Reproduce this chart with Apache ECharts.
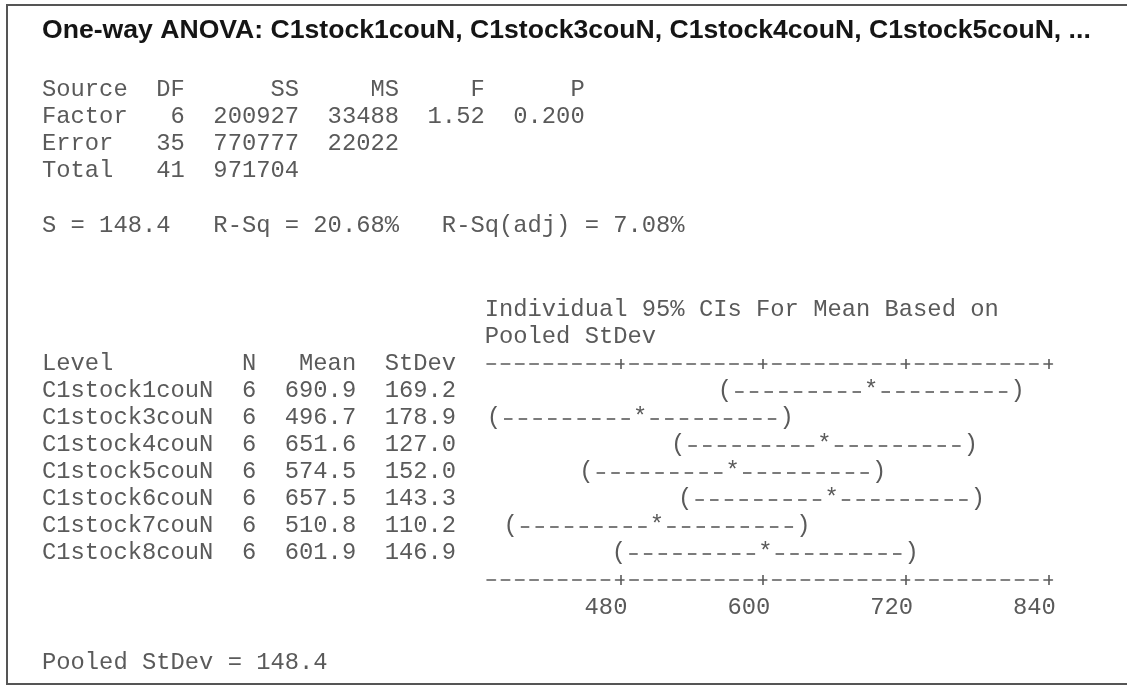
<!DOCTYPE html>
<html><head><meta charset="utf-8">
<script src="https://cdn.jsdelivr.net/npm/echarts@6/dist/echarts.min.js"></script>
<style>html,body{margin:0;padding:0;background:#fff}#c{width:1127px;height:686px}</style>
</head><body><div id="c"></div>
<script>
// ---------- data ----------
const titleText = 'One-way ANOVA: C1stock1couN, C1stock3couN, C1stock4couN, C1stock5couN, ...';
const anovaSources = ['Factor', 'Error', 'Total'];
const anovaDF = [6, 35, 41];
const anovaSS = [200927, 770777, 971704];
const anovaMS = ['33488', '22022', ''];
const anovaF = ['1.52', '', ''];
const anovaP = ['0.200', '', ''];
const sValue = '148.4';
const rSq = '20.68%';
const rSqAdj = '7.08%';
const pooledStDev = '148.4';
const ciHeader = ['Individual 95% CIs For Mean Based on', 'Pooled StDev'];
const levels = ['C1stock1couN', 'C1stock3couN', 'C1stock4couN', 'C1stock5couN', 'C1stock6couN', 'C1stock7couN', 'C1stock8couN'];
const nObs = [6, 6, 6, 6, 6, 6, 6];
const means = [690.9, 496.7, 651.6, 574.5, 657.5, 510.8, 601.9];
const stdevs = [169.2, 178.9, 127.0, 152.0, 143.3, 110.2, 146.9];
const ciLow = [567.9, 373.7, 528.6, 451.5, 534.5, 387.8, 478.9];
const ciHigh = [813.9, 619.7, 774.6, 697.5, 780.5, 633.8, 724.9];
const tickValues = [480, 600, 720, 840];

// ---------- style / layout ----------
const MONO = '"Liberation Mono", "DejaVu Sans Mono", monospace';
const FS = 23.8;
const CW = FS * 0.6;
const X0 = 42;
const TXT = '#5a5a5a';
const monoFont = FS + 'px ' + MONO;
const DASH_W = 8.5;

function anovaLine(i) {
  return anovaSources[i].padEnd(6) + String(anovaDF[i]).padStart(4) + String(anovaSS[i]).padStart(8) +
    (anovaMS[i] ? anovaMS[i].padStart(7) : '') + (anovaF[i] ? anovaF[i].padStart(6) : '') + (anovaP[i] ? anovaP[i].padStart(7) : '');
}
function levelRow(i) {
  return levels[i].padEnd(12) + String(nObs[i]).padStart(3) + means[i].toFixed(1).padStart(7) + stdevs[i].toFixed(1).padStart(7);
}
function monoText(str, x, y) {
  return { type: 'text', x: x, y: y, silent: true,
    style: { text: str, font: monoFont, fill: TXT, textAlign: 'left', align: 'left', textVerticalAlign: 'middle', verticalAlign: 'middle' } };
}

const graphics = [
  { type: 'rect', silent: true, shape: { x: 7, y: 5, width: 1300, height: 679 },
    style: { fill: 'none', stroke: '#555', lineWidth: 2 } },
  { type: 'text', x: X0, y: 30.5, silent: true,
    style: { text: titleText, font: 'bold 26.6px "Liberation Sans", Arial, sans-serif', fill: '#151515',
      textAlign: 'left', align: 'left', textVerticalAlign: 'middle', verticalAlign: 'middle' } },
  monoText('Source'.padEnd(6) + 'DF'.padStart(4) + 'SS'.padStart(8) + 'MS'.padStart(7) + 'F'.padStart(6) + 'P'.padStart(7), X0, 90),
  monoText(anovaLine(0), X0, 117),
  monoText(anovaLine(1), X0, 144),
  monoText(anovaLine(2), X0, 171),
  monoText('S = ' + sValue + '   R-Sq = ' + rSq + '   R-Sq(adj) = ' + rSqAdj, X0, 226),
  monoText(ciHeader[0], X0 + 31 * CW, 310),
  monoText(ciHeader[1], X0 + 31 * CW, 337),
  monoText('Level'.padEnd(12) + 'N'.padStart(3) + 'Mean'.padStart(7) + 'StDev'.padStart(7), X0, 364),
  monoText('Pooled StDev = ' + pooledStDev, X0, 663)
];

// axis: 368 at x=487, 840 at x=1048.7; max extended a little so the last "+" keeps its right arm
const XMIN = 368, XMAX = 845;
const GL = 487;
const PX_PER = (1048.7 - 487) / (840 - XMIN);
const GR = GL + (XMAX - XMIN) * PX_PER;
const dash = [DASH_W, CW - DASH_W];
const axisLineStyle = { color: '#5a5a5a', width: 1.6, type: dash };
const tickStyle = { color: '#5a5a5a', width: 1.6 };
function xAx(pos, withLine, inside, labels) {
  return {
    type: 'value', gridIndex: 0, position: pos, offset: 13.5, min: XMIN, max: XMAX,
    axisLine: { show: withLine, onZero: false, lineStyle: axisLineStyle },
    axisTick: { show: true, inside: inside, length: 5, customValues: tickValues, lineStyle: tickStyle },
    axisLabel: labels ? { show: true, customValues: tickValues, formatter: v => v + '  ', align: 'center',
      margin: 16, fontFamily: MONO, fontSize: FS, color: TXT } : { show: false },
    splitLine: { show: false }
  };
}

const chart = echarts.init(document.getElementById('c'), null, { renderer: 'canvas' });
chart.setOption({
  animation: false,
  backgroundColor: '#fff',
  graphic: graphics,
  grid: { left: GL, right: 1127 - GR, top: 377.5, bottom: 686 - 566.5, containLabel: false },
  xAxis: [xAx('bottom', true, false, true), xAx('bottom', false, true, false), xAx('top', true, false, false), xAx('top', false, true, false)],
  yAxis: {
    type: 'category', data: levels, inverse: true,
    axisLine: { show: false }, axisTick: { show: false }, splitLine: { show: false },
    axisLabel: { interval: 0, align: 'left', margin: GL - X0, formatter: (v, i) => levelRow(i),
      fontFamily: MONO, fontSize: FS, color: TXT }
  },
  series: [{
    type: 'custom', xAxisIndex: 0, yAxisIndex: 0, silent: true, clip: false,
    data: levels.map((_, i) => [i, means[i], ciLow[i], ciHigh[i]]),
    encode: { y: 0, x: [1, 2, 3] },
    renderItem: function (params, api) {
      const idx = api.value(0);
      const pm = api.coord([api.value(1), idx]);
      const pl = api.coord([api.value(2), idx]);
      const ph = api.coord([api.value(3), idx]);
      const y = pm[1];
      const ch = (t, x) => ({ type: 'text', x: x, y: y,
        style: { text: t, font: monoFont, fill: TXT, textAlign: 'center', align: 'center', textVerticalAlign: 'middle', verticalAlign: 'middle' } });
      const dashes = (a, b) => {
        const n = Math.max(1, Math.round((b - a) / CW));
        const step = (b - a) / n;
        const out = [];
        for (let k = 0; k < n; k++) {
          const c = a + (k + 0.5) * step;
          out.push({ type: 'line', shape: { x1: c - DASH_W / 2, y1: y + 1, x2: c + DASH_W / 2, y2: y + 1 },
            style: { stroke: TXT, lineWidth: 1.6 } });
        }
        return out;
      };
      return { type: 'group', children: [
        ch('(', pl[0]), ch(')', ph[0]), ch('*', pm[0])
      ].concat(dashes(pl[0] + CW / 2, pm[0] - CW / 2), dashes(pm[0] + CW / 2, ph[0] - CW / 2)) };
    }
  }]
});
</script></body></html>
